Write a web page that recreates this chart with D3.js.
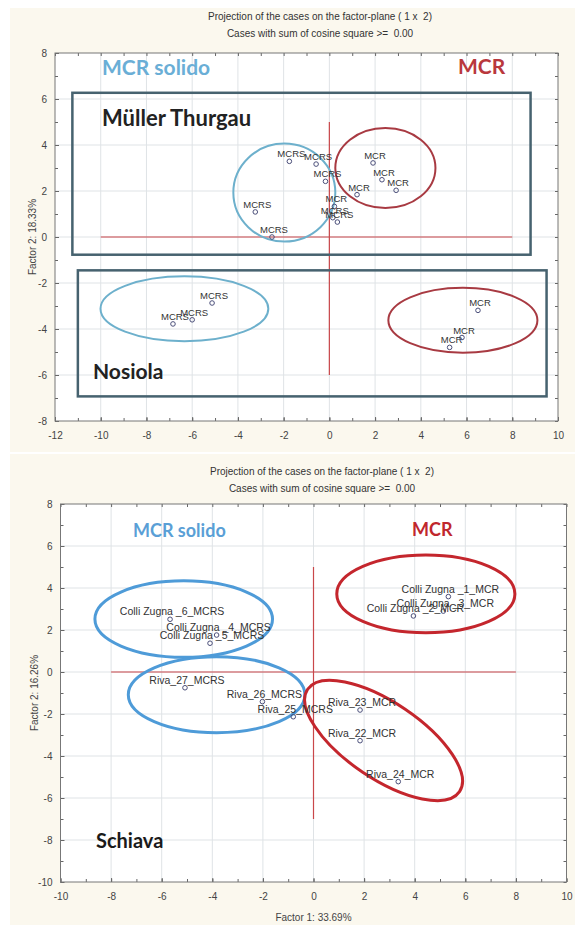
<!DOCTYPE html>
<html>
<head>
<meta charset="utf-8">
<script src="https://cdn.jsdelivr.net/npm/d3@7"></script>
<style>
  body { margin: 0; background: #fff; }
  svg text { font-family: "Liberation Sans", Arial, sans-serif; }
</style>
</head>
<body>
<div id="chart"></div>
<script>
// Two factor-plane projections (PCA cases), stacked one above the other.

// --- top plot: Müller Thurgau / Nosiola ---
const topNames = ["MCRS", "MCRS", "MCRS", "MCRS", "MCRS", "MCRS", "MCRS",
                  "MCR", "MCR", "MCR", "MCR", "MCR",
                  "MCRS", "MCRS", "MCRS",
                  "MCR", "MCR", "MCR"];
const topF1 = [-1.75, -0.58, -0.17, -3.24, -2.51, 0.15, 0.35,
               1.91, 2.30, 2.92, 1.21, 0.22,
               -5.13, -6.00, -6.84,
               6.50, 5.80, 5.26];
const topF2 = [3.29, 3.17, 2.42, 1.09, 0.00, 0.84, 0.65,
               3.22, 2.49, 2.03, 1.84, 1.33,
               -2.87, -3.60, -3.78,
               -3.19, -4.37, -4.80];
const topXTicks = [-12, -10, -8, -6, -4, -2, 0, 2, 4, 6, 8, 10];
const topYTicks = [-8, -6, -4, -2, 0, 2, 4, 6, 8];
// group ellipses: [cx, cy, rx, ry, angle] in factor units
const topEllipses = [[-1.97, 1.93, 2.23, 2.13, 0], [2.45, 3.0, 2.19, 1.74, 0],
                     [-6.34, -3.12, 3.67, 1.41, 0], [5.84, -3.62, 3.26, 1.41, 0]];
const topEllipseGroup = ["MCRS", "MCR", "MCRS", "MCR"];
// variety boxes: [x0, x1, y0, y1] in factor units
const topBoxes = [[-11.24, 8.8, -0.77, 6.27], [-11.0, 9.5, -6.93, -1.45]];

// --- bottom plot: Schiava ---
const botNames = ["Colli Zugna _6_MCRS", "Colli Zugna _4_MCRS", "Colli Zugna _5_MCRS",
                  "Colli Zugna _1_MCR", "Colli Zugna _3_MCR", "Colli Zugna _2_MCR",
                  "Riva_27_MCRS", "Riva_26_MCRS", "Riva_25_MCRS",
                  "Riva_23_MCR", "Riva_22_MCR", "Riva_24_MCR"];
const botF1 = [-5.67, -3.83, -4.09, 5.33, 5.13, 3.95, -5.08, -2.02, -0.80, 1.84, 1.84, 3.35];
const botF2 = [2.51, 1.76, 1.37, 3.59, 2.90, 2.67, -0.75, -1.41, -2.13, -1.81, -3.27, -5.22];
const botXTicks = [-10, -8, -6, -4, -2, 0, 2, 4, 6, 8, 10];
const botYTicks = [-10, -8, -6, -4, -2, 0, 2, 4, 6, 8];
const botEllipses = [[-5.13, 2.52, 3.51, 1.82, 0], [-3.83, -1.08, 3.49, 1.81, 0],
                     [4.44, 3.72, 3.52, 1.85, 0], [2.77, -3.26, 3.62, 1.81, 34]];
const botEllipseGroup = ["MCRS", "MCRS", "MCR", "MCR"];

const svg = d3.select("#chart").append("svg")
  .attr("width", 575)
  .attr("height", 925);

function drawPlot(opt) {
  const g = svg.append("g");

  // cream panel
  g.append("rect")
    .attr("x", opt.panel[0]).attr("y", opt.panel[1])
    .attr("width", opt.panel[2]).attr("height", opt.panel[3])
    .attr("fill", "#fbf8ee");

  const x = d3.scaleLinear().domain(opt.xDomain).range(opt.xRange);
  const y = d3.scaleLinear().domain(opt.yDomain).range(opt.yRange);
  const [x0, x1] = opt.xRange, [y1, y0] = opt.yRange;
  const w = x1 - x0, h = y1 - y0;

  g.append("rect")
    .attr("x", x0).attr("y", y0).attr("width", w).attr("height", h)
    .attr("fill", "#fff");

  // titles
  g.append("text").attr("x", opt.titleX).attr("y", opt.titleY)
    .attr("text-anchor", "middle").style("font-size", "10px").style("white-space", "pre")
    .attr("fill", "#333")
    .text("Projection of the cases on the factor-plane ( 1 x  2)");
  g.append("text").attr("x", opt.titleX).attr("y", opt.titleY + 17)
    .attr("text-anchor", "middle").style("font-size", "10px").style("white-space", "pre")
    .attr("fill", "#333")
    .text("Cases with sum of cosine square >=  0.00");

  // grid
  const gx = opt.xTicks.filter(d => d > opt.xDomain[0] && d < opt.xDomain[1]);
  const gy = opt.yTicks.filter(d => d > opt.yDomain[0] && d < opt.yDomain[1]);
  g.selectAll(".gx").data(gx).enter().append("line")
    .attr("x1", d => x(d)).attr("x2", d => x(d)).attr("y1", y0).attr("y2", y1)
    .attr("stroke", "#dfe3e6").attr("stroke-width", 1);
  g.selectAll(".gy").data(gy).enter().append("line")
    .attr("y1", d => y(d)).attr("y2", d => y(d)).attr("x1", x0).attr("x2", x1)
    .attr("stroke", "#dfe3e6").attr("stroke-width", 1);

  // red reference axes
  g.append("line")
    .attr("x1", x(opt.hLine[0])).attr("x2", x(opt.hLine[1])).attr("y1", y(0)).attr("y2", y(0))
    .attr("stroke", "#c9474a").attr("stroke-width", 1.2);
  g.append("line")
    .attr("x1", x(0)).attr("x2", x(0)).attr("y1", y(opt.vLine[0])).attr("y2", y(opt.vLine[1]))
    .attr("stroke", "#c9474a").attr("stroke-width", 1.2);

  // axes: ticks point inward on all four sides
  const minorX = d3.range(opt.xDomain[0], opt.xDomain[1] + 1, 1);
  const minorY = d3.range(opt.yDomain[0], opt.yDomain[1] + 1, 1);
  const fmt = d => String(d);
  const styleAxis = sel => {
    sel.select(".domain").remove();
    sel.selectAll("line").attr("stroke", "#666");
    sel.selectAll("text").style("font-size", "10px").attr("fill", "#444")
      .style("font-family", "'Liberation Sans', Arial, sans-serif");
  };
  g.append("g").attr("transform", `translate(0,${y1})`)
    .call(d3.axisBottom(x).tickValues(minorX).tickFormat("").tickSize(-3).tickSizeOuter(0)).call(styleAxis);
  g.append("g").attr("transform", `translate(0,${y1})`)
    .call(d3.axisBottom(x).tickValues(opt.xTicks).tickFormat(fmt).tickSize(-4).tickPadding(11).tickSizeOuter(0)).call(styleAxis);
  g.append("g").attr("transform", `translate(0,${y0})`)
    .call(d3.axisTop(x).tickValues(minorX).tickFormat("").tickSize(-3).tickSizeOuter(0)).call(styleAxis);
  g.append("g").attr("transform", `translate(${x0},0)`)
    .call(d3.axisLeft(y).tickValues(minorY).tickFormat("").tickSize(-3).tickSizeOuter(0)).call(styleAxis);
  g.append("g").attr("transform", `translate(${x0},0)`)
    .call(d3.axisLeft(y).tickValues(opt.yTicks).tickFormat(fmt).tickSize(-4).tickPadding(8).tickSizeOuter(0)).call(styleAxis);
  g.append("g").attr("transform", `translate(${x1},0)`)
    .call(d3.axisRight(y).tickValues(minorY).tickFormat("").tickSize(-3).tickSizeOuter(0)).call(styleAxis);

  g.append("rect")
    .attr("x", x0).attr("y", y0).attr("width", w).attr("height", h)
    .attr("fill", "none").attr("stroke", "#777").attr("stroke-width", 1);

  // axis titles
  g.append("text")
    .attr("transform", `translate(${opt.yTitleX},${(y0 + y1) / 2}) rotate(-90)`)
    .attr("text-anchor", "middle").style("font-size", "10px").attr("fill", "#444")
    .text(opt.yTitle);
  if (opt.xTitle) {
    g.append("text").attr("x", (x0 + x1) / 2).attr("y", opt.xTitleY)
      .attr("text-anchor", "middle").style("font-size", "10px").attr("fill", "#444")
      .text(opt.xTitle);
  }

  // variety boxes
  (opt.boxes || []).forEach(b => {
    g.append("rect")
      .attr("x", x(b[0])).attr("y", y(b[3]))
      .attr("width", x(b[1]) - x(b[0])).attr("height", y(b[2]) - y(b[3]))
      .attr("fill", "none").attr("stroke", "#46626f").attr("stroke-width", 2.5);
  });

  // group ellipses
  const kx = Math.abs(x(1) - x(0)), ky = Math.abs(y(1) - y(0));
  opt.ellipses.forEach((e, i) => {
    const isRed = opt.ellipseGroup[i] === "MCR";
    g.append("ellipse")
      .attr("transform", `translate(${x(e[0])},${y(e[1])}) rotate(${e[4]})`)
      .attr("rx", e[2] * kx).attr("ry", e[3] * ky)
      .attr("fill", "none")
      .attr("stroke", isRed ? opt.redStroke : opt.blueStroke)
      .attr("stroke-width", opt.ellipseWidth);
  });

  // cases
  const pts = opt.names.map((n, i) => ({ name: n, f1: opt.f1[i], f2: opt.f2[i] }));
  g.selectAll(".pt").data(pts).enter().append("circle")
    .attr("cx", d => x(d.f1)).attr("cy", d => y(d.f2)).attr("r", 2.3)
    .attr("fill", "none").attr("stroke", "#4b4f7a").attr("stroke-width", 1);
  g.selectAll(".lbl").data(pts).enter().append("text")
    .attr("x", d => x(d.f1) + 2).attr("y", d => y(d.f2) - 4)
    .attr("text-anchor", "middle")
    .style("font-size", opt.labelSize).attr("fill", "#333")
    .text(d => d.name);

  // overlay annotations
  opt.notes.forEach(n => {
    g.append("text").attr("x", n.x).attr("y", n.y)
      .style("font-family", "Lato, 'Open Sans', sans-serif")
      .style("font-weight", "bold").style("font-size", n.size + "px")
      .attr("fill", n.color).text(n.text);
  });
}

drawPlot({
  panel: [10, 8, 565, 444],
  xDomain: [-12, 10], xRange: [55, 558],
  yDomain: [-8, 8], yRange: [421, 53],
  xTicks: topXTicks, yTicks: topYTicks,
  titleX: 320, titleY: 20,
  hLine: [-10, 8], vLine: [-6, 5],
  yTitle: "Factor 2: 18.33%", yTitleX: 36,
  boxes: topBoxes,
  ellipses: topEllipses, ellipseGroup: topEllipseGroup,
  redStroke: "#a83a42", blueStroke: "#6db0cc", ellipseWidth: 2,
  names: topNames, f1: topF1, f2: topF2, labelSize: "9.5px",
  notes: [
    { text: "MCR solido", x: 102, y: 75, size: 21, color: "#6aaed6" },
    { text: "MCR", x: 458, y: 74, size: 21, color: "#b9383d" },
    { text: "Müller Thurgau", x: 102, y: 126, size: 22, color: "#222" },
    { text: "Nosiola", x: 93, y: 379, size: 21, color: "#222" }
  ]
});

drawPlot({
  panel: [10, 454, 565, 471],
  xDomain: [-10, 10], xRange: [60.5, 566.5],
  yDomain: [-10, 8], yRange: [882, 504],
  xTicks: botXTicks, yTicks: botYTicks,
  titleX: 322, titleY: 475,
  hLine: [-8, 8], vLine: [-7, 5],
  yTitle: "Factor 2: 16.26%", yTitleX: 38,
  xTitle: "Factor 1: 33.69%", xTitleY: 921,
  boxes: [],
  ellipses: botEllipses, ellipseGroup: botEllipseGroup,
  redStroke: "#c4262d", blueStroke: "#4e9bd8", ellipseWidth: 3,
  names: botNames, f1: botF1, f2: botF2, labelSize: "10.5px",
  notes: [
    { text: "MCR solido", x: 133, y: 537, size: 18, color: "#5a9fd6" },
    { text: "MCR", x: 412, y: 536, size: 18, color: "#c0272d" },
    { text: "Schiava", x: 96, y: 848, size: 20, color: "#1a1a1a" }
  ]
});
</script>
</body>
</html>
